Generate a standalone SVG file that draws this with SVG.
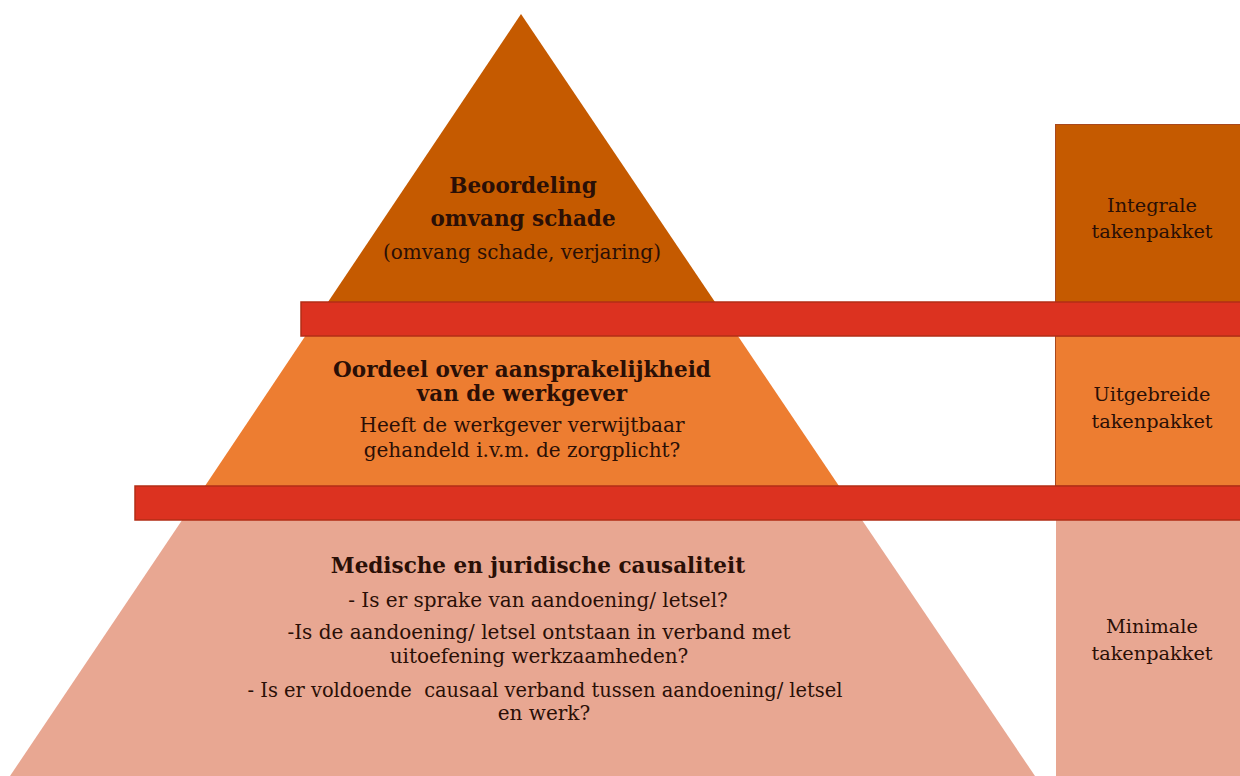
<svg xmlns="http://www.w3.org/2000/svg" width="1240" height="776" viewBox="0 0 1240 776">
<style>
.t{font-family:"DejaVu Serif","Liberation Serif",serif;fill:#2a0f06;text-anchor:middle;font-size:20px}
.b{font-weight:bold;font-size:21.5px}
.r{font-size:19.3px}
.bar{fill:#DC3220;stroke:#B32E16;stroke-width:1.5}
.col{stroke:#A9481E;stroke-width:1}
</style>
<rect width="1240" height="776" fill="#ffffff"/>
<g id="pyramid-bottom">
<polygon points="205,486 839,486 1035,776 10,776" fill="#E8A792"/>
<text class="t b" x="538" y="573">Medische en juridische causaliteit</text>
<text class="t" x="538" y="607">- Is er sprake van aandoening/ letsel?</text>
<text class="t" x="539" y="639">-Is de aandoening/ letsel ontstaan in verband met</text>
<text class="t" x="539" y="663">uitoefening werkzaamheden?</text>
<text class="t" x="545" y="697" xml:space="preserve" style="white-space:pre" textLength="595" lengthAdjust="spacingAndGlyphs">- Is er voldoende  causaal verband tussen aandoening/ letsel</text>
<text class="t" x="544" y="720">en werk?</text>
</g>
<g id="pyramid-middle">
<polygon points="328,302 715,302 839,486 205,486" fill="#ED7D31"/>
<text class="t b" x="522" y="377">Oordeel over aansprakelijkheid</text>
<text class="t b" x="522" y="401">van de werkgever</text>
<text class="t" x="522" y="432">Heeft de werkgever verwijtbaar</text>
<text class="t" x="522" y="457">gehandeld i.v.m. de zorgplicht?</text>
</g>
<g id="pyramid-top">
<polygon points="521,14 715,302 328,302" fill="#C55A00"/>
<text class="t b" x="523" y="193">Beoordeling</text>
<text class="t b" x="523" y="226">omvang schade</text>
<text class="t" x="522" y="259">(omvang schade, verjaring)</text>
</g>
<g id="column-integrale">
<rect class="col" x="1055.5" y="124.5" width="190" height="178" fill="#C55A00"/>
<text class="t r" x="1152" y="212">Integrale</text>
<text class="t r" x="1152" y="238">takenpakket</text>
</g>
<g id="column-uitgebreide">
<rect class="col" x="1055.5" y="336" width="190" height="150" fill="#ED7D31"/>
<text class="t r" x="1152" y="401">Uitgebreide</text>
<text class="t r" x="1152" y="428">takenpakket</text>
</g>
<g id="column-minimale">
<rect x="1056" y="520" width="190" height="260" fill="#E8A792"/>
<text class="t r" x="1152" y="633">Minimale</text>
<text class="t r" x="1152" y="660">takenpakket</text>
</g>
<g id="bars">
<rect class="bar" x="301" y="302" width="950" height="34"/>
<rect class="bar" x="135" y="486" width="1116" height="34"/>
</g>
</svg>
